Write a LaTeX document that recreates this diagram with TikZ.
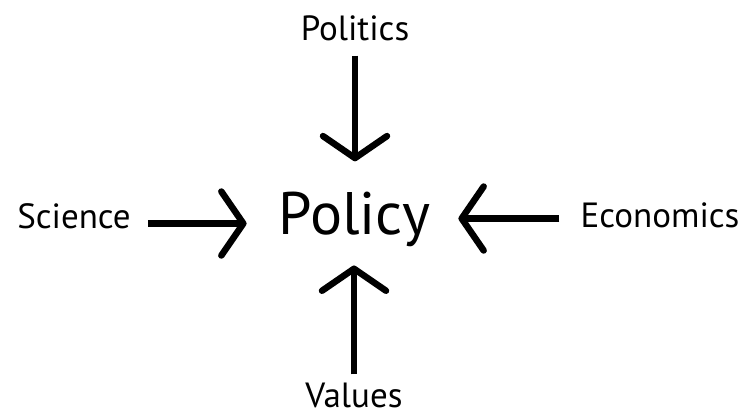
\documentclass[tikz,border=0pt]{standalone}
\usepackage{fontspec}
\setmainfont{PT Sans}
\usetikzlibrary{arrows.meta}
\begin{document}
\begin{tikzpicture}[x=1pt,y=1pt,yscale=-1,
  label text/.style={inner sep=0pt,anchor=base,font=\fontsize{35}{40}\selectfont},
  main text/.style={inner sep=0pt,anchor=base,font=\fontsize{60}{70}\selectfont},
  push arrow/.style={line width=6.5pt,-{Straight Barb[length=22pt,width=64pt,round]}}]
\useasboundingbox (0,0) rectangle (749,416);

% Text Node
\node [main text] (policy) at (354.5,234) {Policy};
% Text Node
\node [label text] (politics) at (355,40) {Politics};
% Text Node
\node [label text] (science) at (74,228) {Science};
% Text Node
\node [label text] (economics) at (660,227) {Economics};
% Text Node
\node [label text] (values) at (354,407) {Values};

%Straight Lines
\draw [push arrow,shorten <=15pt,shorten >=30pt] (politics.south) -- (politics.south |- policy.north);
%Straight Lines
\draw [push arrow,shorten <=17pt,shorten >=32pt] ([yshift=-2pt]science.mid east) -- ([yshift=-2pt]science.mid east -| policy.west);
%Straight Lines
\draw [push arrow,shorten <=21pt,shorten >=28pt] ([yshift=-6pt]economics.mid west) -- ([yshift=-6pt]economics.mid west -| policy.east);
%Straight Lines
\draw [push arrow,shorten <=8pt,shorten >=19pt] (values.north) -- (values.north |- policy.south);

\end{tikzpicture}
\end{document}
